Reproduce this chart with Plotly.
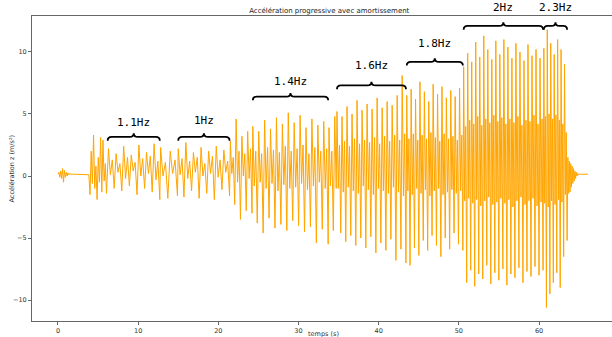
import numpy as np
import plotly.graph_objects as go

# ---- data: extrema, by segment ----
seg_pre = (0.0, 1.6, [0.15, 0.3, -0.1, 0.4, -0.2, 0.6, -0.5, 0.45, -0.1, 0.3, 0.0, 0.25, 0.1, 0.2, 0.15])
seg_flat = (1.65, 3.8, [0.15, 0.12, 0.15, 0.14])
seg_onset = (3.85, 6.2, [0.1, -1.5, 2.0, -0.6, 3.3, -1.0, 0.8, -1.9, 1.5, -0.5, 3.1, -1.3, 2.9, -0.4, 1.0, -1.4, 0.6])
seg_11 = (6.3, 12.7, [2.2, 0.1, 1.3, -1.0, 1.8, 0.3, 1.0, -1.2, 2.4, -0.2, 1.5, -0.8, 1.7, 0.4, 1.1, -1.5,
                      2.5, 0.0, 1.4, -1.0, 1.9, 0.2, 1.6, -1.3, 2.6, -0.3, 1.2, -1.9])
seg_t1 = (12.8, 14.9, [2.3, 0.0, 1.1, -1.8, 2.0, 0.2, 1.3, -1.6])
seg_10 = (15.0, 21.4, [2.2, 0.1, 1.4, -1.7, 2.7, -0.2, 1.2, -1.2, 1.9, 0.3, 1.5, -1.8, 2.3, 0.0, 1.0, -1.4,
                       2.0, 0.2, 1.6, -1.9, 2.4, -0.1, 1.3, -1.1, 2.1, 0.3, 1.2, -1.6])
seg_t2 = (21.5, 24.2, [2.8, 0.2, 1.5, -2.3, 4.6, -0.5, 2.0, -3.5, 3.2, 0.0, 1.8, -2.8, 3.6, -0.2, 2.2, -3.0])
seg_14 = (24.3, 33.7, [4.0, -0.8, 2.0, -3.8, 3.6, -0.5, 1.8, -4.6, 4.5, -1.0, 2.3, -3.4, 3.8, -0.6, 2.1, -4.2,
                       4.7, -1.2, 1.9, -3.9, 4.2, -0.7, 2.4, -4.4, 5.1, -1.0, 2.0, -3.6, 4.3, -0.9, 2.2, -4.0,
                       4.9, -0.6, 2.5, -4.5, 3.9, -1.1, 1.8, -4.1, 4.6, -0.8, 2.3, -5.4, 4.1, -0.5, 2.0, -4.3,
                       4.4, -1.0, 2.2, -5.5])
seg_t3 = (33.8, 34.7, [3.9, -0.8, 2.0, -4.4, 4.8, -1.0])
seg_16 = (34.8, 43.4, [5.2, -1.0, 2.5, -4.6, 4.8, -1.3, 2.8, -5.3, 5.6, -0.9, 2.4, -4.8, 5.0, -1.2, 3.0, -5.6,
                       6.1, -1.4, 2.6, -5.0, 5.3, -0.8, 2.9, -5.8, 5.8, -1.1, 2.7, -4.9, 5.4, -1.5, 3.1, -6.2,
                       6.3, -1.0, 2.6, -5.4, 5.5, -1.2, 3.2, -6.0, 6.0, -1.4, 2.8, -5.1, 5.7, -0.9, 3.3, -6.8,
                       6.5, -1.3, 2.9, -5.9, 8.1, -1.6, 3.4, -7.0])
seg_18 = (43.5, 50.5, [6.5, -1.2, 3.0, -7.2, 7.0, -1.5, 3.4, -5.8, 6.2, -1.0, 2.9, -6.4, 7.6, -1.4, 3.3, -5.2,
                       6.8, -1.1, 3.0, -6.0, 6.0, -1.6, 3.5, -4.8, 7.4, -1.2, 3.1, -5.6, 6.6, -1.0, 2.8, -6.5,
                       7.2, -1.5, 3.4, -5.0, 6.3, -1.3, 3.0, -5.9, 6.9, -1.1, 3.2, -4.6, 6.4, -1.4, 2.9, -5.5,
                       7.1, -1.2, 3.3, -6.0])
seg_20 = (50.6, 60.5, [8.8, -2.0, 4.0, -8.6, 9.9, -1.8, 4.5, -7.6, 9.2, -2.2, 4.2, -8.9, 10.8, -1.9, 4.8, -7.9,
                       9.6, -2.4, 4.1, -8.3, 11.3, -2.0, 4.6, -7.2, 10.2, -1.7, 4.3, -8.7, 9.4, -2.3, 4.9, -7.8,
                       10.9, -2.1, 4.4, -8.4, 9.8, -1.8, 4.7, -7.5, 11.0, -2.2, 4.2, -8.8, 10.4, -1.9, 4.6, -7.9,
                       9.5, -2.5, 4.3, -8.2, 10.7, -2.0, 4.8, -7.4, 10.0, -1.7, 4.1, -8.6, 9.3, -2.3, 4.5, -7.7,
                       10.6, -2.0, 4.4, -8.1, 9.7, -1.8, 4.9, -7.3, 10.2, -2.4, 4.2, -8.0, 9.5, -2.1, 4.6, -7.6])
seg_23 = (60.6, 63.5, [10.3, -2.2, 4.8, -10.6, 11.8, -2.5, 5.0, -9.5, 10.7, -2.0, 4.6, -8.6, 9.8, -2.3, 4.9, -7.8,
                       11.0, -1.9, 4.5, -9.0, 10.2, -2.1, 4.2, -6.5, 9.0, -1.5, 3.5, -5.2])
seg_decay = (63.6, 65.0, [1.5, -1.4, 1.2, -1.3, 1.0, -0.9, 0.8, -0.6, 0.6, -0.4, 0.4, -0.2, 0.3, 0.0, 0.2, 0.1, 0.15])
seg_tail = (65.1, 66.1, [0.15, 0.14, 0.15])

segments = [seg_pre, seg_flat, seg_onset, seg_11, seg_t1, seg_10, seg_t2, seg_14, seg_t3,
            seg_16, seg_18, seg_20, seg_23, seg_decay, seg_tail]

# frequency labels: text, start, end, brace level, label level
freq_labels = ["1.1Hz", "1Hz", "1.4Hz", "1.6Hz", "1.8Hz", "2Hz", "2.3Hz"]
brace_start = [6.2, 15.0, 24.3, 34.8, 43.5, 50.6, 60.6]
brace_end = [12.7, 21.4, 33.7, 43.4, 50.5, 60.5, 63.5]
brace_level = [3.15, 3.15, 6.4, 7.3, 9.2, 12.1, 12.1]
label_level = [4.3, 4.45, 7.6, 8.9, 10.7, 13.55, 13.55]

x_range = [-3.24, 69.1]
y_range = [-11.69, 12.9]

t_parts, a_parts = [], []
for t0, t1, vals in segments:
    t_parts.append(np.linspace(t0, t1, len(vals)))
    a_parts.append(np.array(vals))
t = np.concatenate(t_parts)
a = np.concatenate(a_parts)

fig = go.Figure()
fig.add_trace(go.Scatter(x=t, y=a, mode="lines",
                         line=dict(color="#FFA500", width=1), showlegend=False))

shapes, annots = [], []
for lab, x0, x1, yb, yl in zip(freq_labels, brace_start, brace_end, brace_level, label_level):
    xm = (x0 + x1) / 2
    h = 0.3
    w = min(0.5, (x1 - x0) / 6)
    p = (f"M {x0},{yb-h} Q {x0},{yb} {x0+w},{yb} L {xm-w},{yb} Q {xm},{yb} {xm},{yb+h} "
         f"Q {xm},{yb} {xm+w},{yb} L {x1-w},{yb} Q {x1},{yb} {x1},{yb-h}")
    shapes.append(dict(type="path", path=p, xref="x", yref="y",
                       line=dict(color="black", width=1.8)))
    ypaper = (yl - y_range[0]) / (y_range[1] - y_range[0])
    annots.append(dict(x=xm, y=ypaper, xref="x", yref="paper", text=lab, showarrow=False,
                       yanchor="middle",
                       font=dict(family="DejaVu Sans Mono", size=11, color="black")))

# axis titles placed as text near the axes
annots.append(dict(x=0.502, y=-0.044, xref="paper", yref="paper", text="temps (s)",
                   showarrow=False, yanchor="middle", xanchor="center",
                   font=dict(family="DejaVu Sans", size=6.5, color="#333")))
annots.append(dict(x=-0.0345, y=0.5, xref="paper", yref="paper", text="Accélération z (m/s²)",
                   showarrow=False, textangle=-90, xanchor="center", yanchor="middle",
                   font=dict(family="DejaVu Sans", size=6.5, color="#333")))

fig.update_layout(
    width=612, height=337,
    margin=dict(l=32, r=0, t=16, b=16, autoexpand=False),
    paper_bgcolor="white", plot_bgcolor="white",
    title=dict(text="Accélération progressive avec amortissement", x=0.538, xanchor="center",
               y=1 - 10.5 / 337, yanchor="middle", yref="container",
               font=dict(family="DejaVu Sans", size=7, color="#222")),
    shapes=shapes, annotations=annots,
    font=dict(family="DejaVu Sans", size=6.5, color="#333"),
)
fig.update_xaxes(range=x_range, tickvals=[0, 10, 20, 30, 40, 50, 60], automargin=False,
                 showline=True, linecolor="#666", linewidth=1, mirror=True,
                 ticks="outside", ticklen=3, tickcolor="#666", showgrid=False, zeroline=False)
fig.update_yaxes(range=y_range, tickvals=[-10, -5, 0, 5, 10], automargin=False,
                 showline=True, linecolor="#666", linewidth=1, mirror=False,
                 ticks="outside", ticklen=3, tickcolor="#666", showgrid=False, zeroline=False)

fig.write_html("out.html", config={"displayModeBar": False},
               post_script="document.body.style.margin='0';")
